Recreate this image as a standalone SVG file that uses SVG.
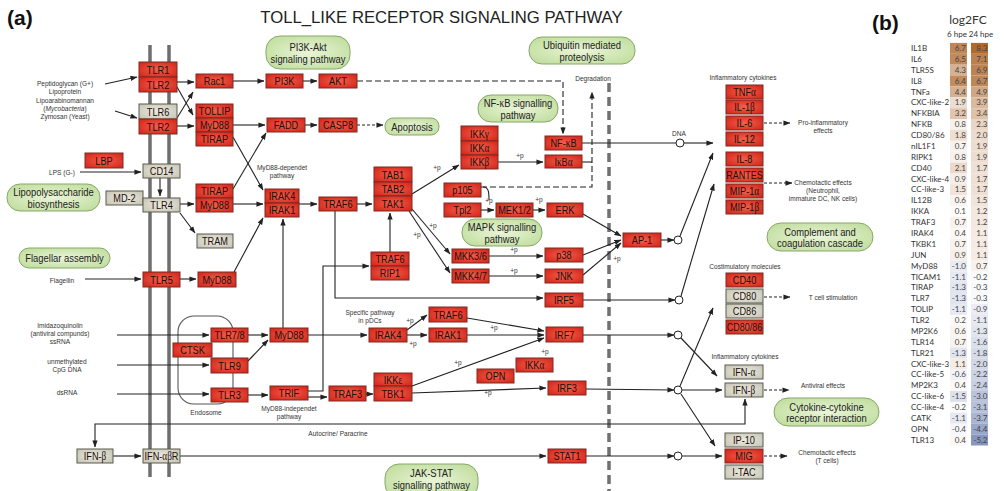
<svg xmlns="http://www.w3.org/2000/svg" width="1004" height="491" viewBox="0 0 1004 491">
<style>
.r{fill:url(#gr);stroke:#7d2a22;stroke-width:1}
.g{fill:url(#gg);stroke:#5a5a50;stroke-width:1}
.p{fill:url(#gp);stroke:#86a96a;stroke-width:1}
.t{font-family:"Liberation Sans",Arial,sans-serif;font-size:11.5px;text-anchor:middle;fill:#1e0e0c}
.pt{font-family:"Liberation Sans",Arial,sans-serif;font-size:11.5px;text-anchor:middle;fill:#222}
.s{font-family:"Liberation Sans",Arial,sans-serif;font-size:8px;text-anchor:middle;fill:#333}
.gk{font-family:"Liberation Serif",serif}
#connectors path{fill:none;stroke:#222;stroke-width:1.1}
#connectors circle{fill:#fff;stroke:#222;stroke-width:1}
.a{marker-end:url(#ar)}
.d{stroke-dasharray:6 3}
.d2{stroke-dasharray:3 2}
.hl{font-family:Lato,"Liberation Sans",sans-serif;font-size:8px;fill:#333}
.hv{font-family:Lato,"Liberation Sans",sans-serif;font-size:8px;fill:#444;text-anchor:end}
</style>
<defs>
<radialGradient id="gr" cx="50%" cy="50%" r="60%"><stop offset="0" stop-color="#f3604c"/><stop offset="1" stop-color="#d62a1e"/></radialGradient>
<radialGradient id="gg" cx="50%" cy="50%" r="60%"><stop offset="0" stop-color="#ecebe0"/><stop offset="1" stop-color="#c9c8b8"/></radialGradient>
<radialGradient id="gp" cx="50%" cy="50%" r="60%"><stop offset="0" stop-color="#eaf5d8"/><stop offset="1" stop-color="#c2dea0"/></radialGradient>
<marker id="ar" viewBox="0 0 8 6" refX="7.5" refY="3" markerWidth="7" markerHeight="5.5" orient="auto" markerUnits="userSpaceOnUse"><path d="M0,0 L8,3 L0,6z" fill="#222"/></marker>
</defs>
<rect width="1004" height="491" fill="#fff"/>

<text x="7" y="25" font-family="Liberation Sans,Arial,sans-serif" font-weight="bold" font-size="21" fill="#111">(a)</text>
<text x="872" y="30" font-family="Liberation Sans,Arial,sans-serif" font-weight="bold" font-size="21" fill="#111">(b)</text>
<text x="441.5" y="23" font-family="Liberation Sans,Arial,sans-serif" font-size="16.7" text-anchor="middle" fill="#222">TOLL_LIKE RECEPTOR SIGNALING PATHWAY</text>

<g id="membrane" stroke="#6e6e6e" stroke-width="3.5">
<line x1="150" y1="45" x2="150" y2="477"/><line x1="169" y1="45" x2="169" y2="477"/>
</g>
<line x1="609" y1="83" x2="609" y2="491" stroke="#707070" stroke-width="3.5" stroke-dasharray="9 5"/>

<g id="labels">
<text class="s" transform="translate(65 86) scale(.82 1)">Peptidoglycan (G+)</text>
<text class="s" transform="translate(65 94) scale(.82 1)">Lipoprotein</text>
<text class="s" transform="translate(65 103) scale(.82 1)">Lipoarabinomannan</text>
<text class="s" transform="translate(65 111) scale(.82 1)">(<tspan font-style="italic">Mycobacteria</tspan>)</text>
<text class="s" transform="translate(65 119) scale(.82 1)">Zymosan (Yeast)</text>
<text class="s" transform="translate(62 175) scale(.82 1)">LPS (G-)</text>
<text class="s" transform="translate(62 283) scale(.82 1)">Flagellin</text>
<text class="s" transform="translate(60 328) scale(.82 1)">Imidazoquinolin</text>
<text class="s" transform="translate(60 336) scale(.82 1)">(antiviral compunds)</text>
<text class="s" transform="translate(60 344) scale(.82 1)">ssRNA</text>
<text class="s" transform="translate(67 364) scale(.82 1)">unmethylated</text>
<text class="s" transform="translate(67 372) scale(.82 1)">CpG DNA</text>
<text class="s" transform="translate(67 395) scale(.82 1)">dsRNA</text>
<text class="s" transform="translate(206 415) scale(.82 1)">Endosome</text>
<text class="s" transform="translate(289 411) scale(.82 1)">MyD88-independet</text>
<text class="s" transform="translate(289 419) scale(.82 1)">pathway</text>
<text class="s" transform="translate(282 170) scale(.82 1)">MyD88-dependet</text>
<text class="s" transform="translate(282 178) scale(.82 1)">pathway</text>
<text class="s" transform="translate(370 315) scale(.82 1)">Specific pathway</text>
<text class="s" transform="translate(370 323) scale(.82 1)">in pDCs</text>
<text class="s" transform="translate(338 436) scale(.82 1)">Autocrine/ Paracrine</text>
<text class="s" transform="translate(593 81) scale(.82 1)">Degradation</text>
<text class="s" transform="translate(679 136) scale(.82 1)">DNA</text>
<text class="s" transform="translate(743 80) scale(.82 1)">Inflammatory cytokines</text>
<text class="s" transform="translate(823 125) scale(.82 1)">Pro-inflammatory</text>
<text class="s" transform="translate(823 133) scale(.82 1)">effects</text>
<text class="s" transform="translate(823 185) scale(.82 1)">Chemotactic effects</text>
<text class="s" transform="translate(823 193) scale(.82 1)">(Neutrophil,</text>
<text class="s" transform="translate(823 201) scale(.82 1)">immature DC, NK cells)</text>
<text class="s" transform="translate(745 269) scale(.82 1)">Costimulatory molecules</text>
<text class="s" transform="translate(833 300) scale(.82 1)">T cell stimulation</text>
<text class="s" transform="translate(745 359) scale(.82 1)">Inflammatory cytokines</text>
<text class="s" transform="translate(823 388) scale(.82 1)">Antiviral effects</text>
<text class="s" transform="translate(827 455) scale(.82 1)">Chemotactic effects</text>
<text class="s" transform="translate(827 463) scale(.82 1)">(T cells)</text>
<text class="s" transform="translate(437 170) scale(.82 1)">+p</text>
<text class="s" transform="translate(520 158) scale(.82 1)">+p</text>
<text class="s" transform="translate(489 203) scale(.82 1)">+p</text>
<text class="s" transform="translate(539 202) scale(.82 1)">+p</text>
<text class="s" transform="translate(433 228) scale(.82 1)">+p</text>
<text class="s" transform="translate(417 237) scale(.82 1)">+p</text>
<text class="s" transform="translate(514 252) scale(.82 1)">+p</text>
<text class="s" transform="translate(514 273) scale(.82 1)">+p</text>
<text class="s" transform="translate(617 261) scale(.82 1)">+p</text>
<text class="s" transform="translate(410 323) scale(.82 1)">+p</text>
<text class="s" transform="translate(413 346) scale(.82 1)">+p</text>
<text class="s" transform="translate(494 330) scale(.82 1)">+p</text>
<text class="s" transform="translate(458 365) scale(.82 1)">+p</text>
<text class="s" transform="translate(488 395) scale(.82 1)">+p</text>
<text class="s" transform="translate(545 354) scale(.82 1)">+p</text>
</g>

<g id="connectors">
<rect x="178" y="316" width="55" height="88" rx="16" fill="none" stroke="#555" stroke-width="1.1"/>
<path class="a" d="M105,84 L137,77"/>
<path class="a" d="M115,111 L137,118"/>
<path class="a" d="M177,82 L194,82"/>
<path class="a" d="M177,87 L193,115"/>
<path class="a" d="M177,118 L193,92"/>
<path class="a" d="M177,126 L194,126"/>
<path class="a" d="M233,81 L264,81"/>
<path class="a" d="M303,81 L317,81"/>
<path class="a d" d="M357,81 H563 V134"/>
<path class="a" d="M233,125 L265,125"/>
<path class="a" d="M305,125 L317,125"/>
<path class="a d2" d="M357,125 L383,125"/>
<path class="a" d="M233,137 L263,190"/>
<path class="a" d="M233,189 L266,133"/>
<path class="a" d="M80,172 L141,172"/>
<path class="a" d="M160,178 L160,196"/>
<path class="a" d="M180,204 L194,204"/>
<path class="a" d="M180,213 L195,233"/>
<path class="a" d="M85,279 L141,279"/>
<path class="a" d="M180,279 L196,279"/>
<path class="a" d="M234,272 L263,218"/>
<path class="a" d="M233,204 L263,204"/>
<path class="a" d="M299,204 L317,204"/>
<path class="a" d="M357,204 L372,204"/>
<path class="a" d="M335,211 V298 H543"/>
<path class="a" d="M390,252 L390,213"/>
<path class="a" d="M412,194 L459,165"/>
<path class="a" d="M412,209 L450,254"/>
<path class="a" d="M409,211 L450,273"/>
<path class="a" d="M498,162 L543,162"/>
<path d="M582,143 L676,143"/>
<circle cx="680" cy="143" r="4"/>
<path class="a" d="M684,143 L713,143"/>
<path class="a d" d="M481,187 H592 V92"/>
<path d="M582,162 H592"/>
<path d="M483,187 C489,187 489,193 489,200"/>
<path class="a" d="M481,210 L494,210"/>
<path class="a" d="M533,210 L545,210"/>
<path class="a" d="M489,256 L543,256"/>
<path class="a" d="M489,276 L543,276"/>
<path class="a" d="M583,214 L621,236"/>
<path class="a" d="M583,255 L621,240"/>
<path class="a" d="M583,275 L621,243"/>
<path class="a" d="M661,240 L674,240"/>
<circle cx="678" cy="240" r="4"/>
<path class="a" d="M680,236 L713,153"/>
<path class="a" d="M583,300 L675,300"/>
<circle cx="679" cy="300" r="4"/>
<path class="a" d="M681,296 L714,184"/>
<path class="a d2" d="M764,123 L790,123"/>
<path class="a d2" d="M764,183 L792,183"/>
<path class="a d2" d="M764,297 L790,297"/>
<path class="a" d="M117,335 L209,335"/>
<path class="a" d="M117,365 L209,365"/>
<path class="a" d="M117,394 L209,394"/>
<path class="a" d="M248,335 L268,335"/>
<path class="a" d="M248,361 L268,340"/>
<path class="a" d="M283,328 V219"/>
<path class="a" d="M308,335 L367,335"/>
<path class="a" d="M407,335 L427,335"/>
<path class="a" d="M407,330 L427,315"/>
<path class="a" d="M467,318 L544,331"/>
<path class="a" d="M467,335 L544,335"/>
<path class="a" d="M248,395 L268,395"/>
<path class="a" d="M308,391 H323 V266 H369"/>
<path class="a" d="M308,397 L327,397"/>
<path class="a" d="M366,394 L373,394"/>
<path class="a" d="M412,386 L544,338"/>
<path class="a" d="M412,393 L546,388"/>
<path class="a" d="M583,335 L674,335"/>
<circle cx="678" cy="335" r="4"/>
<path class="a" d="M681,338 L717,376"/>
<path class="a" d="M586,389 L674,390"/>
<circle cx="678" cy="390" r="4"/>
<path class="a" d="M682,390 L722,390"/>
<path class="a" d="M680,386 L713,308"/>
<path class="a" d="M681,394 L715,446"/>
<path class="a d2" d="M764,390 L789,390"/>
<path class="a" d="M420,424 H95 V447"/>
<path class="a" d="M420,424 H745 V399"/>
<path class="a" d="M113,456 L141,456"/>
<path class="a" d="M180,456 L546,456"/>
<path class="a" d="M586,456 L674,456"/>
<circle cx="678" cy="456" r="4"/>
<path class="a" d="M682,456 L722,456"/>
<path class="a d2" d="M764,456 L787,456"/>
</g>

<g id="pw-pi3k"><rect class="p" x="266" y="36" width="84" height="33" rx="14"/><text class="pt" transform="translate(308 51) scale(.82 1)">PI3K-Akt</text><text class="pt" transform="translate(308 63) scale(.82 1)">signaling pathway</text></g>
<g id="pw-apoptosis"><rect class="p" x="385" y="118" width="54" height="17" rx="8"/><text class="pt" transform="translate(412 130.5) scale(.82 1)">Apoptosis</text></g>
<g id="pw-ubiquitin"><rect class="p" x="529" y="37" width="106" height="27" rx="13"/><text class="pt" transform="translate(582 49) scale(.82 1)">Ubiquitin mediated</text><text class="pt" transform="translate(582 60.5) scale(.82 1)">proteolysis</text></g>
<g id="pw-nfkb"><rect class="p" x="478" y="95" width="80" height="27" rx="13"/><text class="pt" transform="translate(518 107) scale(.82 1)">NF-<tspan class="gk">κ</tspan>B signalling</text><text class="pt" transform="translate(518 118.5) scale(.82 1)">pathway</text></g>
<g id="pw-lps"><rect class="p" x="7" y="184" width="93" height="27" rx="13"/><text class="pt" transform="translate(53.5 196) scale(.82 1)">Lipopolysaccharide</text><text class="pt" transform="translate(53.5 207.5) scale(.82 1)">biosynthesis</text></g>
<g id="pw-flagellar"><rect class="p" x="19" y="248" width="91" height="20" rx="10"/><text class="pt" transform="translate(64.5 262) scale(.82 1)">Flagellar assembly</text></g>
<g id="pw-mapk"><rect class="p" x="462" y="219" width="80" height="27" rx="13"/><text class="pt" transform="translate(502 231) scale(.82 1)">MAPK signalling</text><text class="pt" transform="translate(502 242.5) scale(.82 1)">pathway</text></g>
<g id="pw-complement"><rect class="p" x="767" y="223" width="106" height="28" rx="14"/><text class="pt" transform="translate(820 235.5) scale(.82 1)">Complement and</text><text class="pt" transform="translate(820 247) scale(.82 1)">coagulation cascade</text></g>
<g id="pw-cytokine"><rect class="p" x="774" y="398" width="105" height="28" rx="14"/><text class="pt" transform="translate(826.5 410.5) scale(.82 1)">Cytokine-cytokine</text><text class="pt" transform="translate(826.5 422) scale(.82 1)">receptor interaction</text></g>
<g id="pw-jakstat"><rect class="p" x="385" y="464" width="93" height="34" rx="14"/><text class="pt" transform="translate(431.5 477) scale(.82 1)">JAK-STAT</text><text class="pt" transform="translate(431.5 488.5) scale(.82 1)">signalling pathway</text></g>

<g id="tlr1"><rect class="r" x="139" y="62" width="38" height="15"/><text class="t" transform="translate(158 73.5) scale(.8 1)">TLR1</text></g>
<g id="tlr2a"><rect class="r" x="139" y="77" width="38" height="15"/><text class="t" transform="translate(158 88.5) scale(.8 1)">TLR2</text></g>
<g id="tlr6"><rect class="g" x="139" y="104" width="38" height="15"/><text class="t" transform="translate(158 115.5) scale(.8 1)">TLR6</text></g>
<g id="tlr2b"><rect class="r" x="139" y="119" width="38" height="15"/><text class="t" transform="translate(158 130.5) scale(.8 1)">TLR2</text></g>
<g id="rac1"><rect class="r" x="196" y="74" width="37" height="14"/><text class="t" transform="translate(214.5 85) scale(.8 1)">Rac1</text></g>
<g id="tollip"><rect class="r" x="196" y="104" width="37" height="14"/><text class="t" transform="translate(214.5 115) scale(.8 1)">TOLLIP</text></g>
<g id="myd88a"><rect class="r" x="196" y="118" width="37" height="14"/><text class="t" transform="translate(214.5 129) scale(.8 1)">MyD88</text></g>
<g id="tirapa"><rect class="r" x="196" y="132" width="37" height="14"/><text class="t" transform="translate(214.5 143) scale(.8 1)">TIRAP</text></g>
<g id="pi3k"><rect class="r" x="266" y="74" width="37" height="14"/><text class="t" transform="translate(284.5 85) scale(.8 1)">PI3K</text></g>
<g id="akt"><rect class="r" x="319" y="74" width="38" height="14"/><text class="t" transform="translate(338 85) scale(.8 1)">AKT</text></g>
<g id="fadd"><rect class="r" x="267" y="118" width="38" height="14"/><text class="t" transform="translate(286 129) scale(.8 1)">FADD</text></g>
<g id="casp8"><rect class="r" x="319" y="118" width="38" height="14"/><text class="t" transform="translate(338 129) scale(.8 1)">CASP8</text></g>
<g id="lbp"><rect class="r" x="85" y="153" width="38" height="15"/><text class="t" transform="translate(104 164.5) scale(.8 1)">LBP</text></g>
<g id="cd14"><rect class="g" x="143" y="164" width="37" height="14"/><text class="t" transform="translate(161.5 175) scale(.8 1)">CD14</text></g>
<g id="md2"><rect class="g" x="106" y="191" width="37" height="14"/><text class="t" transform="translate(124.5 202) scale(.8 1)">MD-2</text></g>
<g id="tlr4"><rect class="g" x="143" y="198" width="37" height="14"/><text class="t" transform="translate(161.5 209) scale(.8 1)">TLR4</text></g>
<g id="tirapb"><rect class="r" x="196" y="184" width="37" height="14"/><text class="t" transform="translate(214.5 195) scale(.8 1)">TIRAP</text></g>
<g id="myd88b"><rect class="r" x="196" y="198" width="37" height="14"/><text class="t" transform="translate(214.5 209) scale(.8 1)">MyD88</text></g>
<g id="tram"><rect class="g" x="197" y="234" width="36" height="14"/><text class="t" transform="translate(215 245) scale(.8 1)">TRAM</text></g>
<g id="tlr5"><rect class="r" x="143" y="272" width="37" height="15"/><text class="t" transform="translate(161.5 283.5) scale(.8 1)">TLR5</text></g>
<g id="myd88c"><rect class="r" x="198" y="272" width="38" height="15"/><text class="t" transform="translate(217 283.5) scale(.8 1)">MyD88</text></g>
<g id="irak4a"><rect class="r" x="265" y="189" width="34" height="14"/><text class="t" transform="translate(282 200) scale(.8 1)">IRAK4</text></g>
<g id="irak1a"><rect class="r" x="265" y="203" width="34" height="14"/><text class="t" transform="translate(282 214) scale(.8 1)">IRAK1</text></g>
<g id="traf6a"><rect class="r" x="319" y="197" width="38" height="14"/><text class="t" transform="translate(338 208) scale(.8 1)">TRAF6</text></g>
<g id="tab1"><rect class="r" x="374" y="167" width="38" height="15"/><text class="t" transform="translate(393 178.5) scale(.8 1)">TAB1</text></g>
<g id="tab2"><rect class="r" x="374" y="182" width="38" height="14"/><text class="t" transform="translate(393 193) scale(.8 1)">TAB2</text></g>
<g id="tak1"><rect class="r" x="374" y="196" width="38" height="15"/><text class="t" transform="translate(393 207.5) scale(.8 1)">TAK1</text></g>
<g id="traf6b"><rect class="r" x="371" y="252" width="38" height="14"/><text class="t" transform="translate(390 263) scale(.8 1)">TRAF6</text></g>
<g id="rip1"><rect class="r" x="371" y="266" width="38" height="14"/><text class="t" transform="translate(390 277) scale(.8 1)">RIP1</text></g>
<g id="ikkg"><rect class="r" x="461" y="126" width="37" height="15"/><text class="t" transform="translate(479.5 137.5) scale(.8 1)">IKK<tspan class="gk">γ</tspan></text></g>
<g id="ikka"><rect class="r" x="461" y="141" width="37" height="14"/><text class="t" transform="translate(479.5 152) scale(.8 1)">IKK<tspan class="gk">α</tspan></text></g>
<g id="ikkb"><rect class="r" x="461" y="155" width="37" height="14"/><text class="t" transform="translate(479.5 166) scale(.8 1)">IKK<tspan class="gk">β</tspan></text></g>
<g id="p105"><rect class="r" x="444" y="183" width="37" height="14"/><text class="t" transform="translate(462.5 194) scale(.8 1)">p105</text></g>
<g id="tpl2"><rect class="r" x="444" y="203" width="37" height="14"/><text class="t" transform="translate(462.5 214) scale(.8 1)">Tpl2</text></g>
<g id="mek12"><rect class="r" x="496" y="203" width="37" height="14"/><text class="t" transform="translate(514.5 214) scale(.8 1)">MEK1/2</text></g>
<g id="erk"><rect class="r" x="547" y="203" width="36" height="14"/><text class="t" transform="translate(565 214) scale(.8 1)">ERK</text></g>
<g id="nfkb"><rect class="r" x="545" y="136" width="37" height="14"/><text class="t" transform="translate(563.5 147) scale(.8 1)">NF-<tspan class="gk">κ</tspan>B</text></g>
<g id="ikba"><rect class="r" x="545" y="155" width="37" height="13"/><text class="t" transform="translate(563.5 165.5) scale(.8 1)">I<tspan class="gk">κ</tspan>B<tspan class="gk">α</tspan></text></g>
<g id="mkk36"><rect class="r" x="452" y="249" width="37" height="14"/><text class="t" transform="translate(470.5 260) scale(.8 1)">MKK3/6</text></g>
<g id="mkk47"><rect class="r" x="452" y="269" width="37" height="14"/><text class="t" transform="translate(470.5 280) scale(.8 1)">MKK4/7</text></g>
<g id="p38"><rect class="r" x="545" y="248" width="38" height="14"/><text class="t" transform="translate(564 259) scale(.8 1)">p38</text></g>
<g id="jnk"><rect class="r" x="545" y="269" width="38" height="14"/><text class="t" transform="translate(564 280) scale(.8 1)">JNK</text></g>
<g id="irf5"><rect class="r" x="545" y="293" width="38" height="14"/><text class="t" transform="translate(564 304) scale(.8 1)">IRF5</text></g>
<g id="ap1"><rect class="r" x="623" y="233" width="38" height="14"/><text class="t" transform="translate(642 244) scale(.8 1)">AP-1</text></g>
<g id="tnfa"><rect class="r" x="726" y="85" width="37" height="14"/><text class="t" transform="translate(744.5 96) scale(.8 1)">TNF<tspan class="gk">α</tspan></text></g>
<g id="il1b"><rect class="r" x="726" y="100" width="37" height="14"/><text class="t" transform="translate(744.5 111) scale(.8 1)">IL-1<tspan class="gk">β</tspan></text></g>
<g id="il6"><rect class="r" x="726" y="116" width="37" height="14"/><text class="t" transform="translate(744.5 127) scale(.8 1)">IL-6</text></g>
<g id="il12"><rect class="r" x="726" y="132" width="37" height="14"/><text class="t" transform="translate(744.5 143) scale(.8 1)">IL-12</text></g>
<g id="il8"><rect class="r" x="726" y="152" width="37" height="14"/><text class="t" transform="translate(744.5 163) scale(.8 1)">IL-8</text></g>
<g id="rantes"><rect class="r" x="726" y="168" width="37" height="14"/><text class="t" transform="translate(744.5 179) scale(.78 1)">RANTES</text></g>
<g id="mip1a"><rect class="r" x="726" y="184" width="37" height="14"/><text class="t" transform="translate(744.5 195) scale(.8 1)">MIP-1<tspan class="gk">α</tspan></text></g>
<g id="mip1b"><rect class="r" x="726" y="200" width="37" height="14"/><text class="t" transform="translate(744.5 211) scale(.8 1)">MIP-1<tspan class="gk">β</tspan></text></g>
<g id="cd40"><rect class="r" x="726" y="273" width="37" height="14"/><text class="t" transform="translate(744.5 284) scale(.8 1)">CD40</text></g>
<g id="cd80"><rect class="g" x="726" y="289" width="37" height="14"/><text class="t" transform="translate(744.5 300) scale(.8 1)">CD80</text></g>
<g id="cd86"><rect class="g" x="726" y="304" width="37" height="14"/><text class="t" transform="translate(744.5 315) scale(.8 1)">CD86</text></g>
<g id="cd8086"><rect class="r" x="726" y="320" width="37" height="14"/><text class="t" transform="translate(744.5 331) scale(.78 1)">CD80/86</text></g>
<g id="tlr78"><rect class="r" x="211" y="328" width="37" height="14"/><text class="t" transform="translate(229.5 339) scale(.8 1)">TLR7/8</text></g>
<g id="ctsk"><rect class="r" x="173" y="343" width="39" height="14"/><text class="t" transform="translate(192.5 354) scale(.8 1)">CTSK</text></g>
<g id="tlr9"><rect class="r" x="211" y="358" width="37" height="15"/><text class="t" transform="translate(229.5 369.5) scale(.8 1)">TLR9</text></g>
<g id="tlr3"><rect class="r" x="211" y="388" width="37" height="14"/><text class="t" transform="translate(229.5 399) scale(.8 1)">TLR3</text></g>
<g id="myd88d"><rect class="r" x="270" y="328" width="38" height="14"/><text class="t" transform="translate(289 339) scale(.8 1)">MyD88</text></g>
<g id="irak4b"><rect class="r" x="369" y="328" width="38" height="14"/><text class="t" transform="translate(388 339) scale(.8 1)">IRAK4</text></g>
<g id="traf6c"><rect class="r" x="429" y="307" width="38" height="15"/><text class="t" transform="translate(448 318.5) scale(.8 1)">TRAF6</text></g>
<g id="irak1b"><rect class="r" x="429" y="328" width="38" height="14"/><text class="t" transform="translate(448 339) scale(.8 1)">IRAK1</text></g>
<g id="irf7"><rect class="r" x="546" y="327" width="37" height="15"/><text class="t" transform="translate(564.5 338.5) scale(.8 1)">IRF7</text></g>
<g id="trif"><rect class="r" x="270" y="386" width="38" height="14"/><text class="t" transform="translate(289 397) scale(.8 1)">TRIF</text></g>
<g id="traf3"><rect class="r" x="329" y="386" width="37" height="15"/><text class="t" transform="translate(347.5 397.5) scale(.8 1)">TRAF3</text></g>
<g id="ikke"><rect class="r" x="374" y="373" width="38" height="13"/><text class="t" transform="translate(393 383.5) scale(.8 1)">IKK<tspan class="gk">ε</tspan></text></g>
<g id="tbk1"><rect class="r" x="374" y="386" width="38" height="15"/><text class="t" transform="translate(393 397.5) scale(.8 1)">TBK1</text></g>
<g id="opn"><rect class="r" x="477" y="369" width="37" height="14"/><text class="t" transform="translate(495.5 380) scale(.8 1)">OPN</text></g>
<g id="ikka2"><rect class="r" x="516" y="358" width="37" height="14"/><text class="t" transform="translate(534.5 369) scale(.8 1)">IKK<tspan class="gk">α</tspan></text></g>
<g id="irf3"><rect class="r" x="548" y="381" width="38" height="14"/><text class="t" transform="translate(567 392) scale(.8 1)">IRF3</text></g>
<g id="ifna"><rect class="g" x="725" y="365" width="38" height="14"/><text class="t" transform="translate(744 376) scale(.8 1)">IFN-<tspan class="gk">α</tspan></text></g>
<g id="ifnb-r"><rect class="g" x="725" y="383" width="38" height="14"/><text class="t" transform="translate(744 394) scale(.8 1)">IFN-<tspan class="gk">β</tspan></text></g>
<g id="ip10"><rect class="g" x="725" y="433" width="38" height="14"/><text class="t" transform="translate(744 444) scale(.8 1)">IP-10</text></g>
<g id="mig"><rect class="r" x="725" y="449" width="38" height="14"/><text class="t" transform="translate(744 460) scale(.8 1)">MIG</text></g>
<g id="itac"><rect class="g" x="725" y="465" width="38" height="14"/><text class="t" transform="translate(744 476) scale(.8 1)">I-TAC</text></g>
<g id="ifnb-l"><rect class="g" x="77" y="449" width="36" height="14"/><text class="t" transform="translate(95 460) scale(.8 1)">IFN-<tspan class="gk">β</tspan></text></g>
<g id="ifnabr"><rect class="g" x="143" y="449" width="37" height="14"/><text class="t" transform="translate(161.5 460) scale(.8 1)">IFN-<tspan class="gk">αβ</tspan>R</text></g>
<g id="stat1"><rect class="r" x="548" y="449" width="38" height="14"/><text class="t" transform="translate(567 460) scale(.8 1)">STAT1</text></g>

<g id="heatmap">
<text x="968" y="24" font-family="Lato,Liberation Sans,sans-serif" font-size="12" text-anchor="middle" fill="#333">log2FC</text>
<text x="957" y="37" font-family="Lato,Liberation Sans,sans-serif" font-size="8" text-anchor="middle" fill="#333">6 hpe</text>
<text x="981" y="37" font-family="Lato,Liberation Sans,sans-serif" font-size="8" text-anchor="middle" fill="#333">24 hpe</text>
<g transform="translate(0 42.9)"><rect x="950" width="17" height="10.9" fill="#bf8758"/><rect x="971" width="17" height="10.9" fill="#b06a30"/><text class="hl" x="911" y="8.2">IL1B</text><text class="hv" x="966" y="8.2">6.7</text><text class="hv" x="987.5" y="8.2">8.3</text></g>
<g transform="translate(0 53.8)"><rect x="950" width="17" height="10.9" fill="#c18a5d"/><rect x="971" width="17" height="10.9" fill="#bb804e"/><text class="hl" x="911" y="8.2">IL6</text><text class="hv" x="966" y="8.2">6.5</text><text class="hv" x="987.5" y="8.2">7.1</text></g>
<g transform="translate(0 64.6)"><rect x="950" width="17" height="10.9" fill="#d6b294"/><rect x="971" width="17" height="10.9" fill="#bd8353"/><text class="hl" x="911" y="8.2">TLR5S</text><text class="hv" x="966" y="8.2">4.3</text><text class="hv" x="987.5" y="8.2">6.9</text></g>
<g transform="translate(0 75.5)"><rect x="950" width="17" height="10.9" fill="#c28c5f"/><rect x="971" width="17" height="10.9" fill="#bf8758"/><text class="hl" x="911" y="8.2">IL8</text><text class="hv" x="966" y="8.2">6.4</text><text class="hv" x="987.5" y="8.2">6.7</text></g>
<g transform="translate(0 86.4)"><rect x="950" width="17" height="10.9" fill="#d5b091"/><rect x="971" width="17" height="10.9" fill="#d0a785"/><text class="hl" x="911" y="8.2">TNFa</text><text class="hv" x="966" y="8.2">4.4</text><text class="hv" x="987.5" y="8.2">4.9</text></g>
<g transform="translate(0 97.3)"><rect x="950" width="17" height="10.9" fill="#edddd0"/><rect x="971" width="17" height="10.9" fill="#dab99e"/><text class="hl" x="911" y="8.2">CXC-like-2</text><text class="hv" x="966" y="8.2">1.9</text><text class="hv" x="987.5" y="8.2">3.9</text></g>
<g transform="translate(0 108.2)"><rect x="950" width="17" height="10.9" fill="#e1c5af"/><rect x="971" width="17" height="10.9" fill="#dfc2aa"/><text class="hl" x="911" y="8.2">NFKBIA</text><text class="hv" x="966" y="8.2">3.2</text><text class="hv" x="987.5" y="8.2">3.4</text></g>
<g transform="translate(0 119)"><rect x="950" width="17" height="10.9" fill="#f7f1eb"/><rect x="971" width="17" height="10.9" fill="#e9d6c6"/><text class="hl" x="911" y="8.2">NFKB</text><text class="hv" x="966" y="8.2">0.8</text><text class="hv" x="987.5" y="8.2">2.3</text></g>
<g transform="translate(0 129.9)"><rect x="950" width="17" height="10.9" fill="#eedfd2"/><rect x="971" width="17" height="10.9" fill="#ecdbcd"/><text class="hl" x="911" y="8.2">CD80/86</text><text class="hv" x="966" y="8.2">1.8</text><text class="hv" x="987.5" y="8.2">2.0</text></g>
<g transform="translate(0 140.8)"><rect x="950" width="17" height="10.9" fill="#f8f2ee"/><rect x="971" width="17" height="10.9" fill="#edddd0"/><text class="hl" x="911" y="8.2">nIL1F1</text><text class="hv" x="966" y="8.2">0.7</text><text class="hv" x="987.5" y="8.2">1.9</text></g>
<g transform="translate(0 151.7)"><rect x="950" width="17" height="10.9" fill="#f7f1eb"/><rect x="971" width="17" height="10.9" fill="#edddd0"/><text class="hl" x="911" y="8.2">RIPK1</text><text class="hv" x="966" y="8.2">0.8</text><text class="hv" x="987.5" y="8.2">1.9</text></g>
<g transform="translate(0 162.6)"><rect x="950" width="17" height="10.9" fill="#ebd9cb"/><rect x="971" width="17" height="10.9" fill="#efe0d5"/><text class="hl" x="911" y="8.2">CD40</text><text class="hv" x="966" y="8.2">2.1</text><text class="hv" x="987.5" y="8.2">1.7</text></g>
<g transform="translate(0 173.4)"><rect x="950" width="17" height="10.9" fill="#f6efe9"/><rect x="971" width="17" height="10.9" fill="#efe0d5"/><text class="hl" x="911" y="8.2">CXC-like-4</text><text class="hv" x="966" y="8.2">0.9</text><text class="hv" x="987.5" y="8.2">1.7</text></g>
<g transform="translate(0 184.3)"><rect x="950" width="17" height="10.9" fill="#f1e4da"/><rect x="971" width="17" height="10.9" fill="#efe0d5"/><text class="hl" x="911" y="8.2">CC-like-3</text><text class="hv" x="966" y="8.2">1.5</text><text class="hv" x="987.5" y="8.2">1.7</text></g>
<g transform="translate(0 195.2)"><rect x="950" width="17" height="10.9" fill="#f9f4f0"/><rect x="971" width="17" height="10.9" fill="#f1e4da"/><text class="hl" x="911" y="8.2">IL12B</text><text class="hv" x="966" y="8.2">0.6</text><text class="hv" x="987.5" y="8.2">1.5</text></g>
<g transform="translate(0 206.1)"><rect x="950" width="17" height="10.9" fill="#fefdfc"/><rect x="971" width="17" height="10.9" fill="#f4e9e1"/><text class="hl" x="911" y="8.2">IKKA</text><text class="hv" x="966" y="8.2">0.1</text><text class="hv" x="987.5" y="8.2">1.2</text></g>
<g transform="translate(0 217)"><rect x="950" width="17" height="10.9" fill="#f8f2ee"/><rect x="971" width="17" height="10.9" fill="#f4e9e1"/><text class="hl" x="911" y="8.2">TRAF3</text><text class="hv" x="966" y="8.2">0.7</text><text class="hv" x="987.5" y="8.2">1.2</text></g>
<g transform="translate(0 227.8)"><rect x="950" width="17" height="10.9" fill="#fbf8f5"/><rect x="971" width="17" height="10.9" fill="#f5ebe3"/><text class="hl" x="911" y="8.2">IRAK4</text><text class="hv" x="966" y="8.2">0.4</text><text class="hv" x="987.5" y="8.2">1.1</text></g>
<g transform="translate(0 238.7)"><rect x="950" width="17" height="10.9" fill="#f8f2ee"/><rect x="971" width="17" height="10.9" fill="#f5ebe3"/><text class="hl" x="911" y="8.2">TKBK1</text><text class="hv" x="966" y="8.2">0.7</text><text class="hv" x="987.5" y="8.2">1.1</text></g>
<g transform="translate(0 249.6)"><rect x="950" width="17" height="10.9" fill="#f6efe9"/><rect x="971" width="17" height="10.9" fill="#f5ebe3"/><text class="hl" x="911" y="8.2">JUN</text><text class="hv" x="966" y="8.2">0.9</text><text class="hv" x="987.5" y="8.2">1.1</text></g>
<g transform="translate(0 260.5)"><rect x="950" width="17" height="10.9" fill="#e8ebf3"/><rect x="971" width="17" height="10.9" fill="#f8f2ee"/><text class="hl" x="911" y="8.2">MyD88</text><text class="hv" x="966" y="8.2">-1.0</text><text class="hv" x="987.5" y="8.2">0.7</text></g>
<g transform="translate(0 271.4)"><rect x="950" width="17" height="10.9" fill="#e6e9f2"/><rect x="971" width="17" height="10.9" fill="#fbfbfc"/><text class="hl" x="911" y="8.2">TICAM1</text><text class="hv" x="966" y="8.2">-1.1</text><text class="hv" x="987.5" y="8.2">-0.2</text></g>
<g transform="translate(0 282.2)"><rect x="950" width="17" height="10.9" fill="#e1e5ef"/><rect x="971" width="17" height="10.9" fill="#f8f9fb"/><text class="hl" x="911" y="8.2">TIRAP</text><text class="hv" x="966" y="8.2">-1.3</text><text class="hv" x="987.5" y="8.2">-0.3</text></g>
<g transform="translate(0 293.1)"><rect x="950" width="17" height="10.9" fill="#e1e5ef"/><rect x="971" width="17" height="10.9" fill="#f8f9fb"/><text class="hl" x="911" y="8.2">TLR7</text><text class="hv" x="966" y="8.2">-1.3</text><text class="hv" x="987.5" y="8.2">-0.3</text></g>
<g transform="translate(0 304)"><rect x="950" width="17" height="10.9" fill="#e6e9f2"/><rect x="971" width="17" height="10.9" fill="#eaedf4"/><text class="hl" x="911" y="8.2">TOLIP</text><text class="hv" x="966" y="8.2">-1.1</text><text class="hv" x="987.5" y="8.2">-0.9</text></g>
<g transform="translate(0 314.9)"><rect x="950" width="17" height="10.9" fill="#fdfbfa"/><rect x="971" width="17" height="10.9" fill="#e6e9f2"/><text class="hl" x="911" y="8.2">TLR2</text><text class="hv" x="966" y="8.2">0.2</text><text class="hv" x="987.5" y="8.2">-1.1</text></g>
<g transform="translate(0 325.8)"><rect x="950" width="17" height="10.9" fill="#f9f4f0"/><rect x="971" width="17" height="10.9" fill="#e1e5ef"/><text class="hl" x="911" y="8.2">MP2K6</text><text class="hv" x="966" y="8.2">0.6</text><text class="hv" x="987.5" y="8.2">-1.3</text></g>
<g transform="translate(0 336.6)"><rect x="950" width="17" height="10.9" fill="#f8f2ee"/><rect x="971" width="17" height="10.9" fill="#dadfec"/><text class="hl" x="911" y="8.2">TLR14</text><text class="hv" x="966" y="8.2">0.7</text><text class="hv" x="987.5" y="8.2">-1.6</text></g>
<g transform="translate(0 347.5)"><rect x="950" width="17" height="10.9" fill="#e1e5ef"/><rect x="971" width="17" height="10.9" fill="#d5dbe9"/><text class="hl" x="911" y="8.2">TLR21</text><text class="hv" x="966" y="8.2">-1.3</text><text class="hv" x="987.5" y="8.2">-1.8</text></g>
<g transform="translate(0 358.4)"><rect x="950" width="17" height="10.9" fill="#f5ebe3"/><rect x="971" width="17" height="10.9" fill="#d1d7e7"/><text class="hl" x="911" y="8.2">CXC-like-3</text><text class="hv" x="966" y="8.2">1.1</text><text class="hv" x="987.5" y="8.2">-2.0</text></g>
<g transform="translate(0 369.3)"><rect x="950" width="17" height="10.9" fill="#f1f3f8"/><rect x="971" width="17" height="10.9" fill="#ccd3e4"/><text class="hl" x="911" y="8.2">CC-like-5</text><text class="hv" x="966" y="8.2">-0.6</text><text class="hv" x="987.5" y="8.2">-2.2</text></g>
<g transform="translate(0 380.2)"><rect x="950" width="17" height="10.9" fill="#fbf8f5"/><rect x="971" width="17" height="10.9" fill="#c8cfe2"/><text class="hl" x="911" y="8.2">MP2K3</text><text class="hv" x="966" y="8.2">0.4</text><text class="hv" x="987.5" y="8.2">-2.4</text></g>
<g transform="translate(0 391)"><rect x="950" width="17" height="10.9" fill="#dce1ed"/><rect x="971" width="17" height="10.9" fill="#bac3db"/><text class="hl" x="911" y="8.2">CC-like-6</text><text class="hv" x="966" y="8.2">-1.5</text><text class="hv" x="987.5" y="8.2">-3.0</text></g>
<g transform="translate(0 401.9)"><rect x="950" width="17" height="10.9" fill="#fbfbfc"/><rect x="971" width="17" height="10.9" fill="#b7c1d9"/><text class="hl" x="911" y="8.2">CC-like-4</text><text class="hv" x="966" y="8.2">-0.2</text><text class="hv" x="987.5" y="8.2">-3.1</text></g>
<g transform="translate(0 412.8)"><rect x="950" width="17" height="10.9" fill="#e6e9f2"/><rect x="971" width="17" height="10.9" fill="#aab5d2"/><text class="hl" x="911" y="8.2">CATK</text><text class="hv" x="966" y="8.2">-1.1</text><text class="hv" x="987.5" y="8.2">-3.7</text></g>
<g transform="translate(0 423.7)"><rect x="950" width="17" height="10.9" fill="#f6f7fa"/><rect x="971" width="17" height="10.9" fill="#99a7ca"/><text class="hl" x="911" y="8.2">OPN</text><text class="hv" x="966" y="8.2">-0.4</text><text class="hv" x="987.5" y="8.2">-4.4</text></g>
<g transform="translate(0 434.6)"><rect x="950" width="17" height="10.9" fill="#fbf8f5"/><rect x="971" width="17" height="10.9" fill="#8797c0"/><text class="hl" x="911" y="8.2">TLR13</text><text class="hv" x="966" y="8.2">0.4</text><text class="hv" x="987.5" y="8.2">-5,2</text></g>
</g>
</svg>
